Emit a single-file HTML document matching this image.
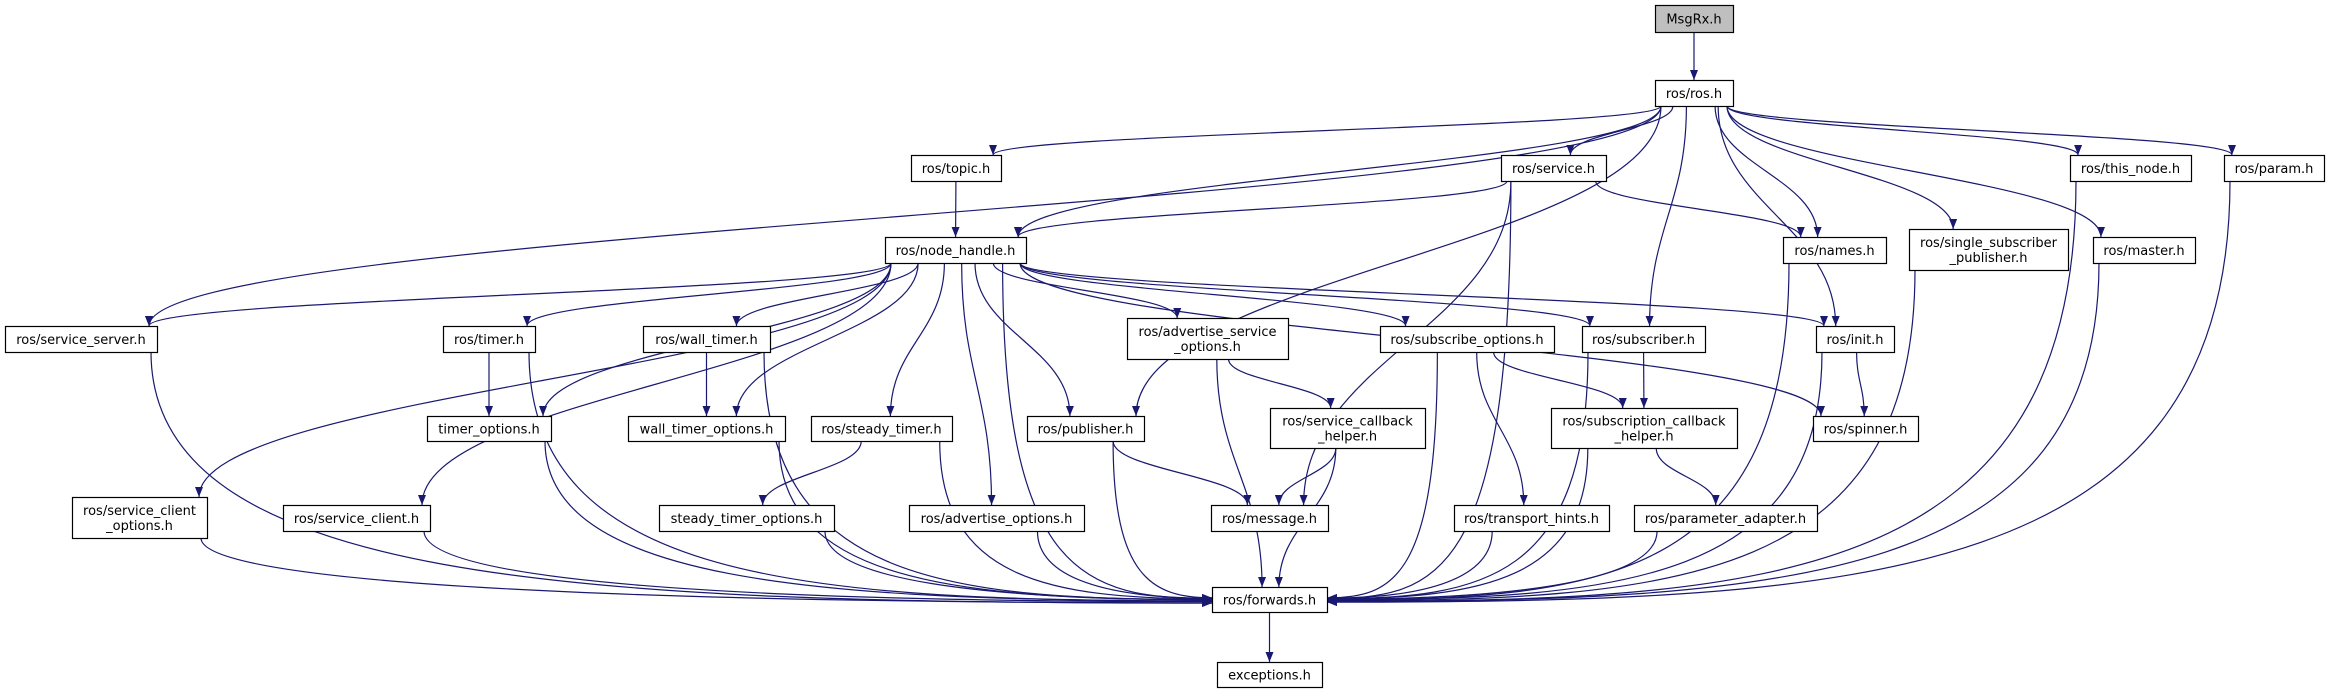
<!DOCTYPE html>
<html><head><meta charset="utf-8"><style>
html,body{margin:0;padding:0;background:#fff;width:2330px;height:693px;overflow:hidden}
svg{display:block}
text{font-family:"DejaVu Sans","Liberation Sans",sans-serif;font-size:13px;fill:#000}
</style></head><body>
<svg id="g" width="2330" height="693" viewBox="0 0 2330 693" xmlns="http://www.w3.org/2000/svg">
<defs><marker id="a" markerWidth="10" markerHeight="8" refX="10" refY="4" orient="auto" markerUnits="userSpaceOnUse"><path d="M0,0 L10,4 L0,8 Z" fill="#191970"/></marker></defs>
<g id="e" fill="none" stroke="#191970" stroke-width="1.2"></g>
<g id="n"></g>
</svg>
<script>
var N={
MsgRx:[1655,5,1733,32,["MsgRx.h"],1],
ros:[1655,80,1733,106,["ros/ros.h"]],
topic:[911,155,1001,181,["ros/topic.h"]],
service:[1501,155,1606,181,["ros/service.h"]],
thisnode:[2070,155,2191,181,["ros/this_node.h"]],
param:[2224,155,2324,181,["ros/param.h"]],
nh:[885,237,1026,263,["ros/node_handle.h"]],
names:[1783,237,1886,263,["ros/names.h"]],
ssp:[1909,229,2068,270,["ros/single_subscriber","_publisher.h"]],
master:[2093,237,2195,263,["ros/master.h"]],
ssrv:[5,326,157,352,["ros/service_server.h"]],
timer:[443,326,535,352,["ros/timer.h"]],
wtimer:[643,326,770,352,["ros/wall_timer.h"]],
aso:[1127,318,1288,359,["ros/advertise_service","_options.h"]],
subo:[1380,326,1554,352,["ros/subscribe_options.h"]],
sub:[1582,326,1705,352,["ros/subscriber.h"]],
init:[1816,326,1894,352,["ros/init.h"]],
topt:[427,416,551,441,["timer_options.h"]],
wtopt:[628,416,785,441,["wall_timer_options.h"]],
stimer:[811,416,952,441,["ros/steady_timer.h"]],
pub:[1027,416,1144,441,["ros/publisher.h"]],
sch:[1270,408,1425,448,["ros/service_callback","_helper.h"]],
subch:[1551,408,1737,448,["ros/subscription_callback","_helper.h"]],
spin:[1813,416,1918,441,["ros/spinner.h"]],
sco:[72,497,207,538,["ros/service_client","_options.h"]],
sc:[283,505,430,531,["ros/service_client.h"]],
stopt:[659,505,834,531,["steady_timer_options.h"]],
ao:[909,505,1084,531,["ros/advertise_options.h"]],
msg:[1211,505,1328,531,["ros/message.h"]],
th:[1454,505,1609,531,["ros/transport_hints.h"]],
pa:[1634,505,1817,531,["ros/parameter_adapter.h"]],
fw:[1212,587,1327,612,["ros/forwards.h"]],
exc:[1217,662,1322,687,["exceptions.h"]]
};
var E=[["MsgRx","ros"],["ros","topic"],["ros","nh"],["ros","ssrv"],["ros","pub"],["ros","service"],["ros","sub"],["ros","names"],["ros","init"],["ros","ssp"],["ros","master"],["ros","thisnode"],["ros","param"],
["topic","nh"],["service","nh"],["service","names"],["service","msg"],["service","fw"],
["nh","ssrv"],["nh","sco"],["nh","fw"],["nh","sc"],["nh","timer"],["nh","topt"],["nh","wtimer"],["nh","wtopt"],["nh","stimer"],["nh","ao"],["nh","pub"],["nh","aso"],["nh","subo"],["nh","sub"],["nh","init"],["nh","spin"],
["ssrv","fw"],["timer","topt"],["timer","fw"],["wtimer","wtopt"],["wtimer","fw"],["topt","fw"],["wtopt","fw"],["stimer","stopt"],["stimer","fw"],["stopt","fw"],["sco","fw"],["sc","fw"],["ao","fw"],["pub","msg"],["pub","fw"],["aso","sch"],["aso","fw"],["sch","msg"],["sch","fw"],["subo","subch"],["subo","th"],["subo","fw"],["th","fw"],["subch","pa"],["subch","fw"],["pa","fw"],["sub","subch"],["sub","fw"],["init","spin"],["init","fw"],["names","fw"],["ssp","fw"],["master","fw"],["thisnode","fw"],["param","fw"],["fw","exc"]];
var ns="http://www.w3.org/2000/svg",eg=document.getElementById("e"),ng=document.getElementById("n");
function el(t,a,p){var x=document.createElementNS(ns,t);for(var k in a)x.setAttribute(k,a[k]);p.appendChild(x);return x;}
E.forEach(function(e){var s=N[e[0]],t=N[e[1]];
var scx=(s[0]+s[2])/2,tcx=(t[0]+t[2])/2;
var sx=scx+Math.max(-(s[2]-s[0])/2+6,Math.min((s[2]-s[0])/2-6,(tcx-scx)*0.15));
var sy=s[3],d;
if(e[1]=="fw"&&Math.abs(scx-tcx)>140){
 var left=scx<tcx, tx=left?t[0]:t[2], ty=600+(left?1:1)*(Math.min(8,Math.abs(scx-tcx)/150)-4)*0.8;
 if(s[3]>=t[1]-10){d="M"+sx+","+sy+" C"+(sx+(tx-sx)*0.3)+","+(ty)+" "+(tx+(left?-60:60))+","+ty+" "+tx+","+ty;}
 else d="M"+sx+","+sy+" C"+sx+","+(ty-20)+" "+(sx+(tx-sx)*0.4)+","+ty+" "+tx+","+ty;
}else{
 var tx=tcx+Math.max(-(t[2]-t[0])/2+8,Math.min((t[2]-t[0])/2-8,(scx-tcx)*0.12)),ty=t[1];
 var dy=ty-sy;
 d="M"+sx+","+sy+" C"+sx+","+(sy+dy*0.45)+" "+tx+","+(ty-dy*0.45)+" "+tx+","+ty;
}
el("path",{d:d,"marker-end":"url(#a)"},eg);});
for(var k in N){var b=N[k];
el("rect",{x:b[0]+0.5,y:b[1]+0.5,width:b[2]-b[0],height:b[3]-b[1],fill:b[5]?"#bfbfbf":"#fff",stroke:"#000","stroke-width":1.2},ng);
var cx=(b[0]+b[2])/2,cy=(b[1]+b[3])/2,L=b[4];
L.forEach(function(s,i){var tt=el("text",{x:cx,y:cy+5+(i-(L.length-1)/2)*15,"text-anchor":"middle"},ng);tt.textContent=s;});}
</script>
</body></html>
